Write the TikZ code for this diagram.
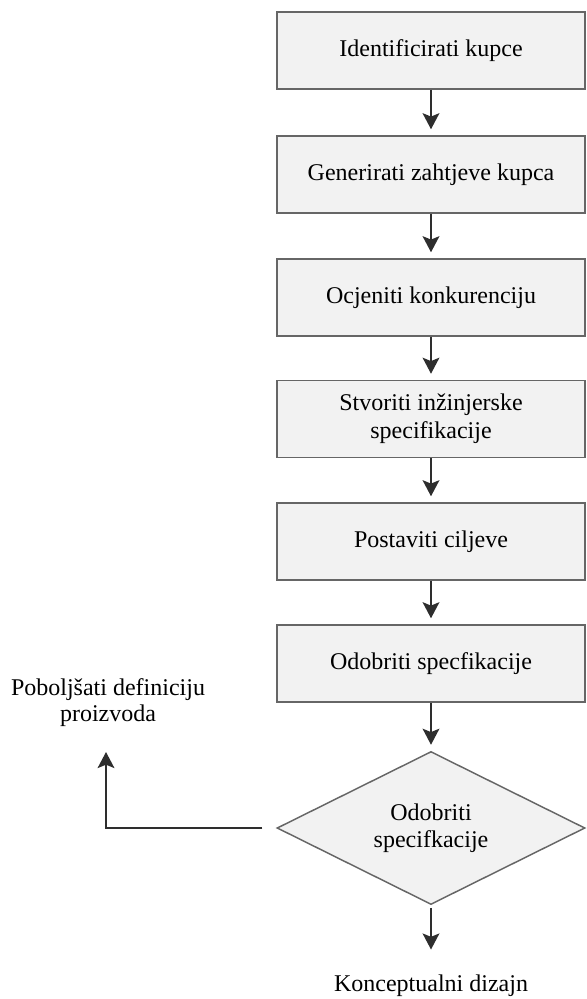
\documentclass[tikz,border=0pt]{standalone}
\usepackage{fontspec}
\setmainfont{Liberation Serif}
\usetikzlibrary{shapes.geometric,arrows.meta}
\definecolor{boxfill}{HTML}{F2F2F2}
\definecolor{boxline}{HTML}{666666}
\definecolor{arrowcol}{HTML}{2E2E2E}
\newcommand{\procstep}[3]{\node[stepbox] (#1) at (431,#2) {#3};}
\newcommand{\flowlink}[2]{\draw[flowarrow] (#1) -- (#2);}

\begin{document}
\begin{tikzpicture}[x=0.75pt,y=-0.75pt,
    stepbox/.style={draw=boxline,fill=boxfill,line width=1.1pt,minimum width=231pt,minimum height=57.75pt,inner sep=0pt,align=center,font=\fontsize{18}{21}\selectfont},
    decision/.style={diamond,aspect=2,draw=boxline,fill=boxfill,line width=1.1pt,minimum width=231pt,minimum height=114.75pt,inner sep=0pt,align=center,font=\fontsize{18}{20}\selectfont},
    label/.style={inner sep=0pt,align=center,font=\fontsize{18}{19.5}\selectfont},
    flowarrow/.style={arrowcol,line width=1.8pt,->,>={Stealth[length=12pt,width=12.5pt,inset=2.5pt]},shorten >=4.5pt}]
    \useasboundingbox (0,0) rectangle (586,999);
    \procstep{IK}{50.5}{Identificirati kupce}
    \procstep{GZ}{174.5}{Generirati zahtjeve kupca}
    \procstep{OK}{297.5}{Ocjeniti konkurenciju}
    \procstep{SI}{419}{Stvoriti inžinjerske\\specifikacije}
    \procstep{PC}{541.5}{Postaviti ciljeve}
    \procstep{OS}{663.5}{Odobriti specfikacije}
    \node[decision] (DS) at (431,828) {Odobriti\\specifkacije};
    \node[label] (KD) at (431,986) {Konceptualni dizajn};
    \node[label] (PD) at (108,703) {Poboljšati definiciju\\proizvoda};
    \coordinate (FB) at (106,752);
    \flowlink{IK}{GZ}\flowlink{GZ}{OK}\flowlink{OK}{SI}
    \flowlink{SI}{PC}\flowlink{PC}{OS}\flowlink{OS}{DS}
    \draw[flowarrow,shorten <=2pt,shorten >=19pt] (DS.south) -- (KD.north);
    \draw[flowarrow,shorten <=10.5pt,shorten >=0pt] (DS.west) -| (FB);
\end{tikzpicture}
\end{document}
